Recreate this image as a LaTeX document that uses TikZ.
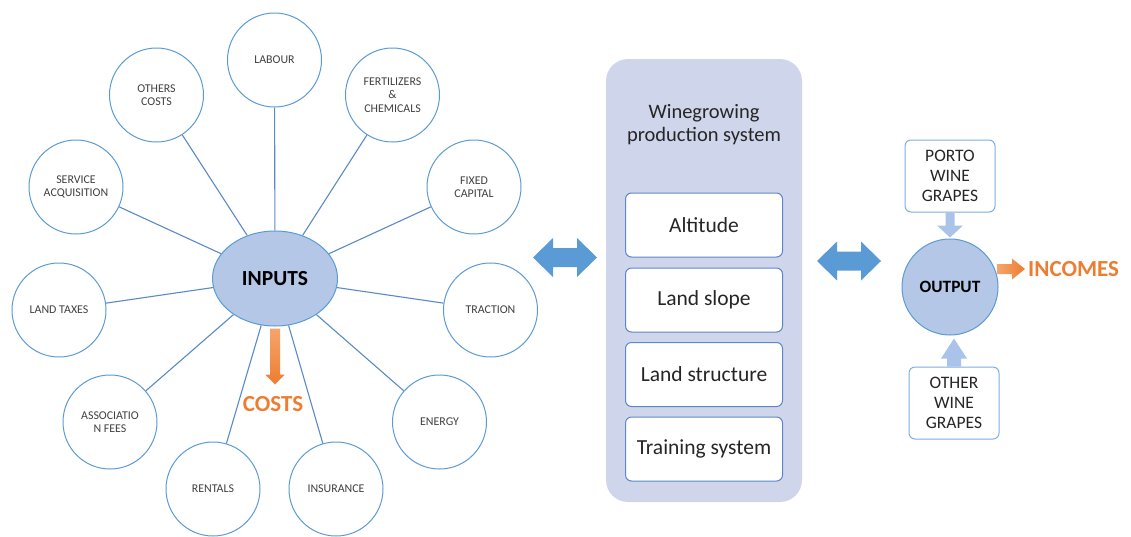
\documentclass[tikz,border=0pt]{standalone}
\usepackage{fontspec}
\setmainfont{Carlito}
\usetikzlibrary{calc,shapes.geometric}
\definecolor{circblue}{HTML}{5B9BD5}
\definecolor{linkblue}{HTML}{5A8AC6}
\definecolor{fillblue}{HTML}{B4C7E7}
\definecolor{panel}{HTML}{CFD5EA}
\definecolor{boxline}{HTML}{5B86C8}
\definecolor{arrowblue}{HTML}{5B9BD5}
\definecolor{lightarrow}{HTML}{A9C4E8}
\definecolor{orange}{HTML}{ED7D31}
\definecolor{orangelight}{HTML}{F5A56C}
\definecolor{txt}{HTML}{262626}
\definecolor{smalltxt}{HTML}{404040}
\tikzset{
  circ/.style={circle, draw=circblue, line width=1pt, fill=white, minimum size=94pt, inner sep=0pt, align=center, text=smalltxt, font=\fontsize{11.9}{13.5}\selectfont},
  conn/.style={draw=linkblue, line width=1.1pt},
  factor/.style={rectangle, rounded corners=6pt, draw=boxline, line width=1pt, fill=white, minimum width=157pt, minimum height=64pt, text=txt, font=\fontsize{21.5}{24}\selectfont},
  gbox/.style={rectangle, rounded corners=6pt, draw=circblue!80, line width=1pt, fill=white, minimum width=90pt, minimum height=72pt, align=center, text=txt, font=\fontsize{17.5}{20}\selectfont},
  orangetxt/.style={text=orange, font=\bfseries\fontsize{23}{26}\selectfont},
  dblarrow/.pic={\fill[arrowblue] (-32,0) -- (-12,-19.5) -- (-12,-9.5) -- (12,-9.5) -- (12,-19.5) -- (32,0) -- (12,19.5) -- (12,9.5) -- (-12,9.5) -- (-12,19.5) -- cycle;}
}
\begin{document}
\begin{tikzpicture}[x=1pt,y=-1pt]
\useasboundingbox (0,0) rectangle (1131,536);
% hub
\node[ellipse, draw=circblue, line width=1pt, fill=fillblue, minimum width=125pt, minimum height=95pt, inner sep=0pt, text=black, font=\bfseries\fontsize{21.5}{24}\selectfont] (inputs) at (275,278.5) {INPUTS};
% satellites
\node[circ] (labour) at (274.5,60) {LABOUR};
\node[circ] (others) at (156.5,95) {OTHERS\\COSTS};
\node[circ] (fert) at (392.5,95) {FERTILIZERS\\\&\\CHEMICALS};
\node[circ] (service) at (76,187) {SERVICE\\ACQUISITION};
\node[circ] (fixed) at (474,187) {FIXED\\CAPITAL};
\node[circ] (landtax) at (59,310) {LAND TAXES};
\node[circ] (traction) at (490.5,310) {TRACTION};
\node[circ] (assoc) at (110,422) {ASSOCIATIO\\N FEES};
\node[circ] (energy) at (439.5,422) {ENERGY};
\node[circ] (rentals) at (213,489) {RENTALS};
\node[circ] (insurance) at (336,489) {INSURANCE};
\foreach \n in {labour,others,fert,service,fixed,landtax,traction,assoc,energy,rentals,insurance}
  \draw[conn] (inputs) -- (\n);
% costs arrow
\shade[top color=orangelight, bottom color=orange] ($(inputs.south)+(-5,2)$) -- ++(0,46) -- ++(-4.75,0) -- ++(9.75,10) -- ++(9.75,-10) -- ++(-4.75,0) -- ++(0,-46) -- cycle;
\node[orangetxt] (costs) at (273,404) {COSTS};
% middle panel
\fill[panel, rounded corners=22pt] (606,59) rectangle (802,502);
\node[align=center, text=txt, font=\fontsize{20.5}{23}\selectfont] (title) at (704,125) {Winegrowing\\production system};
\node[factor] (alt) at (704,225) {Altitude};
\node[factor] (slope) at (704,300) {Land slope};
\node[factor] (struct) at (704,374.5) {Land structure};
\node[factor] (train) at (704,449) {Training system};
% double arrows
\pic at (565,257.5) {dblarrow};
\pic at (849,261) {dblarrow};
% output side
\node[circle, draw=circblue, line width=1pt, fill=fillblue, minimum size=96pt, inner sep=0pt, text=black, font=\bfseries\fontsize{17.3}{20}\selectfont] (output) at (950,287) {OUTPUT};
\node[gbox] (porto) at (950,176) {PORTO\\WINE\\GRAPES};
\node[gbox] (other) at (954,403) {OTHER\\WINE\\GRAPES};
\fill[lightarrow] ($(porto.south)+(-4.5,0)$) -- ++(0,13) -- ++(-8.5,0) -- ++(13,12) -- ++(13,-12) -- ++(-8.5,0) -- ++(0,-13) -- cycle;
\fill[lightarrow] ($(other.north)+(-7,0)$) -- ++(0,-8) -- ++(-6,0) -- ++(13,-20) -- ++(13,20) -- ++(-6,0) -- ++(0,8) -- cycle;
\shade[left color=orangelight, right color=orange] (997,264) -- (1012,264) -- (1012,258.5) -- (1025,269) -- (1012,279.5) -- (1012,274) -- (997,274) -- cycle;
\node[orangetxt, anchor=west, inner sep=1pt] (incomes) at (1027,269) {INCOMES};
\end{tikzpicture}
\end{document}
